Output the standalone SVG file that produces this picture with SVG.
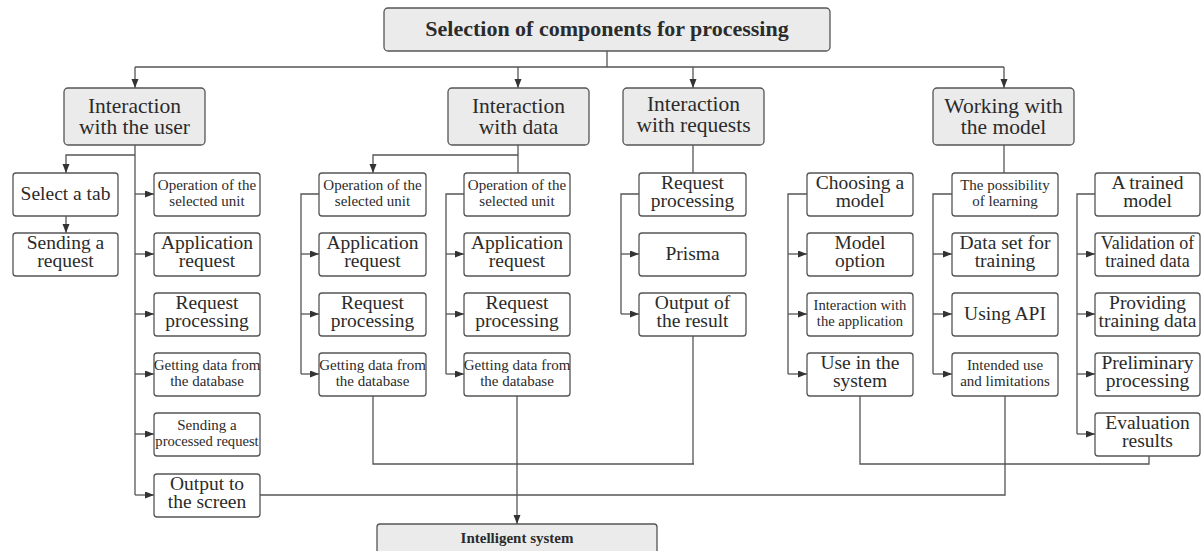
<svg xmlns="http://www.w3.org/2000/svg" width="1201" height="551" viewBox="0 0 1201 551">
<style>
.b{fill:#fff;stroke:#555;stroke-width:1.3}
.g{fill:#ebebeb;stroke:#555;stroke-width:1.3}
.c{fill:none;stroke:#555;stroke-width:1.3}
.a{fill:none;stroke:#555;stroke-width:1.3;marker-end:url(#ah)}
text{font-family:"Liberation Serif","Times New Roman",serif;fill:#2b2b2b;text-anchor:middle}
.m{font-size:19.5px}
.s{font-size:15px}
.l{font-size:21.5px}
</style>
<defs>
<marker id="ah" markerUnits="userSpaceOnUse" markerWidth="10" markerHeight="8" refX="9" refY="3.5" orient="auto"><path d="M0,0 L9,3.5 L0,7 z" fill="#333"/></marker>
</defs>
<rect width="1201" height="551" fill="#fff"/>
<g id="connectors">
<path class="c" d="M607,51 V67 M135,67 H1004"/>
<path class="a" d="M135,67 V88"/><path class="a" d="M518,67 V88"/><path class="a" d="M693,67 V88"/><path class="a" d="M1004,67 V88"/>
<path class="c" d="M135,145 V495"/>
<path class="a" d="M135,155 H66 V173"/><path class="a" d="M66,216 V233"/>
<path class="a" d="M135,194 H154"/><path class="a" d="M135,254 H154"/><path class="a" d="M135,314 H154"/><path class="a" d="M135,374 H154"/><path class="a" d="M135,434 H154"/><path class="a" d="M135,495 H154"/>
<path class="c" d="M518,145 V173"/><path class="a" d="M518,155 H373 V173"/>
<path class="c" d="M319,194 H301 V374"/><path class="a" d="M301,254 H319"/><path class="a" d="M301,314 H319"/><path class="a" d="M301,374 H319"/>
<path class="c" d="M464,194 H446 V374"/><path class="a" d="M446,254 H464"/><path class="a" d="M446,314 H464"/><path class="a" d="M446,374 H464"/>
<path class="c" d="M373,396 V464 H694"/><path class="a" d="M517,396 V524"/>
<path class="c" d="M693,145 V173"/>
<path class="c" d="M639,194 H621 V314"/><path class="a" d="M621,254 H639"/><path class="a" d="M621,314 H639"/>
<path class="c" d="M693,336 V464"/>
<path class="c" d="M1004,145 V173"/>
<path class="c" d="M807,194 H788 V374"/><path class="a" d="M788,254 H807"/><path class="a" d="M788,314 H807"/><path class="a" d="M788,374 H807"/>
<path class="c" d="M952,194 H933 V374"/><path class="a" d="M933,254 H952"/><path class="a" d="M933,314 H952"/><path class="a" d="M933,374 H952"/>
<path class="c" d="M1095,194 H1077 V434"/><path class="a" d="M1077,254 H1095"/><path class="a" d="M1077,314 H1095"/><path class="a" d="M1077,374 H1095"/><path class="a" d="M1077,434 H1095"/>
<path class="c" d="M860,396 V464 H1149 V456"/>
<path class="c" d="M1005,396 V495 H260"/>
</g>
<g id="top"><rect class="g" x="384" y="8" width="446" height="43" rx="4"/><text x="607" y="36" font-size="22" font-weight="bold">Selection of components for processing</text></g>
<g id="user"><rect class="g" x="64" y="88" width="141" height="57" rx="4"/><text class="l" x="134.5" y="113">Interaction</text><text class="l" x="134.5" y="134">with the user</text></g>
<g id="data"><rect class="g" x="448" y="88" width="141" height="57" rx="4"/><text class="l" x="518.5" y="113">Interaction</text><text class="l" x="518.5" y="134">with data</text></g>
<g id="requests"><rect class="g" x="623" y="88" width="141" height="57" rx="4"/><text class="l" x="693.5" y="111">Interaction</text><text class="l" x="693.5" y="132">with requests</text></g>
<g id="model"><rect class="g" x="933" y="88" width="141" height="57" rx="4"/><text class="l" x="1003.5" y="113">Working with</text><text class="l" x="1003.5" y="134">the model</text></g>

<g id="u-tab"><rect class="b" x="13" y="173" width="105" height="43" rx="3"/><text class="m" x="65.5" y="200">Select a tab</text></g>
<g id="u-send"><rect class="b" x="13" y="233" width="105" height="43" rx="3"/><text class="m" x="65.5" y="249">Sending a</text><text class="m" x="65.5" y="267">request</text></g>
<g id="u-op"><rect class="b" x="154" y="173" width="106" height="43" rx="3"/><text class="s" x="207" y="190">Operation of the</text><text class="s" x="207" y="206">selected unit</text></g>
<g id="u-app"><rect class="b" x="154" y="233" width="106" height="43" rx="3"/><text class="m" x="207" y="249">Application</text><text class="m" x="207" y="267">request</text></g>
<g id="u-proc"><rect class="b" x="154" y="293" width="106" height="43" rx="3"/><text class="m" x="207" y="309">Request</text><text class="m" x="207" y="327">processing</text></g>
<g id="u-get"><rect class="b" x="154" y="353" width="106" height="43" rx="3"/><text class="s" x="207" y="370">Getting data from</text><text class="s" x="207" y="386">the database</text></g>
<g id="u-sendp"><rect class="b" x="154" y="413" width="106" height="43" rx="3"/><text class="s" x="207" y="430">Sending a</text><text x="207" y="446" font-size="14.6px">processed request</text></g>
<g id="u-out"><rect class="b" x="154" y="474" width="106" height="43" rx="3"/><text class="m" x="207" y="490">Output to</text><text class="m" x="207" y="508">the screen</text></g>

<g id="d1-op"><rect class="b" x="319" y="173" width="107" height="43" rx="3"/><text class="s" x="372.5" y="190">Operation of the</text><text class="s" x="372.5" y="206">selected unit</text></g>
<g id="d1-app"><rect class="b" x="319" y="233" width="107" height="43" rx="3"/><text class="m" x="372.5" y="249">Application</text><text class="m" x="372.5" y="267">request</text></g>
<g id="d1-proc"><rect class="b" x="319" y="293" width="107" height="43" rx="3"/><text class="m" x="372.5" y="309">Request</text><text class="m" x="372.5" y="327">processing</text></g>
<g id="d1-get"><rect class="b" x="319" y="353" width="107" height="43" rx="3"/><text class="s" x="372.5" y="370">Getting data from</text><text class="s" x="372.5" y="386">the database</text></g>

<g id="d2-op"><rect class="b" x="464" y="173" width="106" height="43" rx="3"/><text class="s" x="517" y="190">Operation of the</text><text class="s" x="517" y="206">selected unit</text></g>
<g id="d2-app"><rect class="b" x="464" y="233" width="106" height="43" rx="3"/><text class="m" x="517" y="249">Application</text><text class="m" x="517" y="267">request</text></g>
<g id="d2-proc"><rect class="b" x="464" y="293" width="106" height="43" rx="3"/><text class="m" x="517" y="309">Request</text><text class="m" x="517" y="327">processing</text></g>
<g id="d2-get"><rect class="b" x="464" y="353" width="106" height="43" rx="3"/><text class="s" x="517" y="370">Getting data from</text><text class="s" x="517" y="386">the database</text></g>

<g id="r-proc"><rect class="b" x="639" y="173" width="107" height="43" rx="3"/><text class="m" x="692.5" y="189">Request</text><text class="m" x="692.5" y="207">processing</text></g>
<g id="r-prisma"><rect class="b" x="639" y="233" width="107" height="43" rx="3"/><text class="m" x="692.5" y="260">Prisma</text></g>
<g id="r-out"><rect class="b" x="639" y="293" width="107" height="43" rx="3"/><text class="m" x="692.5" y="309">Output of</text><text class="m" x="692.5" y="327">the result</text></g>

<g id="ma-choose"><rect class="b" x="807" y="173" width="106" height="43" rx="3"/><text class="m" x="860" y="189">Choosing a</text><text class="m" x="860" y="207">model</text></g>
<g id="ma-option"><rect class="b" x="807" y="233" width="106" height="43" rx="3"/><text class="m" x="860" y="249">Model</text><text class="m" x="860" y="267">option</text></g>
<g id="ma-inter"><rect class="b" x="807" y="293" width="106" height="43" rx="3"/><text x="860" y="310" font-size="14.6px">Interaction with</text><text x="860" y="326" font-size="14.6px">the application</text></g>
<g id="ma-use"><rect class="b" x="807" y="353" width="106" height="43" rx="3"/><text class="m" x="860" y="369">Use in the</text><text class="m" x="860" y="387">system</text></g>

<g id="mb-poss"><rect class="b" x="952" y="173" width="106" height="43" rx="3"/><text class="s" x="1005" y="190">The possibility</text><text class="s" x="1005" y="206">of learning</text></g>
<g id="mb-data"><rect class="b" x="952" y="233" width="106" height="43" rx="3"/><text class="m" x="1005" y="249">Data set for</text><text class="m" x="1005" y="267">training</text></g>
<g id="mb-api"><rect class="b" x="952" y="293" width="106" height="43" rx="3"/><text class="m" x="1005" y="320">Using API</text></g>
<g id="mb-int"><rect class="b" x="952" y="353" width="106" height="43" rx="3"/><text class="s" x="1005" y="370">Intended use</text><text class="s" x="1005" y="386">and limitations</text></g>

<g id="mc-trained"><rect class="b" x="1095" y="173" width="105" height="43" rx="3"/><text class="m" x="1147.5" y="189">A trained</text><text class="m" x="1147.5" y="207">model</text></g>
<g id="mc-valid"><rect class="b" x="1095" y="233" width="105" height="43" rx="3"/><text x="1147.5" y="249" font-size="18px">Validation of</text><text x="1147.5" y="267" font-size="18px">trained data</text></g>
<g id="mc-prov"><rect class="b" x="1095" y="293" width="105" height="43" rx="3"/><text class="m" x="1147.5" y="309">Providing</text><text class="m" x="1147.5" y="327">training data</text></g>
<g id="mc-prel"><rect class="b" x="1095" y="353" width="105" height="43" rx="3"/><text class="m" x="1147.5" y="369">Preliminary</text><text class="m" x="1147.5" y="387">processing</text></g>
<g id="mc-eval"><rect class="b" x="1095" y="413" width="105" height="43" rx="3"/><text class="m" x="1147.5" y="429">Evaluation</text><text class="m" x="1147.5" y="447">results</text></g>

<g id="intelligent"><rect class="g" x="377" y="524" width="280" height="40" rx="3"/><text x="517" y="543" font-size="15" font-weight="bold">Intelligent system</text></g>
</svg>
